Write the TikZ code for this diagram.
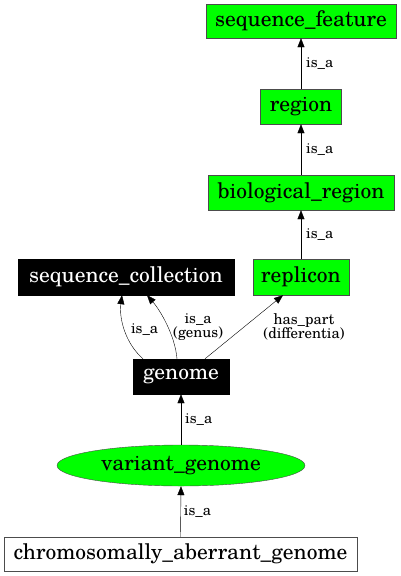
\documentclass[tikz,border=0pt]{standalone}
\usepackage{fontspec}
\setmainfont{TeX Gyre Schola}
\usetikzlibrary{arrows.meta,shapes.geometric}
\definecolor{termgreen}{HTML}{00FF00}

\begin{document}
\begin{tikzpicture}[x=1pt,y=-1pt,
  term/.style={draw=black!70, fill=termgreen, inner sep=0pt,
    font=\fontsize{21.5}{24}\selectfont},
  setterm/.style={draw=black, fill=black, text=white, inner sep=0pt,
    font=\fontsize{21.5}{24}\selectfont},
  plainterm/.style={draw=black!70, fill=white, inner sep=0pt,
    font=\fontsize{21.5}{24}\selectfont},
  rel/.style={draw=black, -{Triangle[length=9pt,width=7pt]}},
  rellabel/.style={font=\fontsize{14.8}{14}\selectfont, inner sep=0pt, align=center}]

\useasboundingbox (0,0) rectangle (401,576);

%% upper chain
\node[term, minimum width=190pt, minimum height=34pt] (seqfeat) at (301,21) {sequence\_feature};
\node[term, minimum width=81pt, minimum height=35pt] (region) at (301,106.5) {region};
\node[term, minimum width=186pt, minimum height=35pt] (bioreg) at (301,192.5) {biological\_region};
\node[term, minimum width=96pt, minimum height=36pt] (replicon) at (301,277) {replicon};

%% left part
\node[setterm, minimum width=216pt, minimum height=36pt] (seqcoll) at (126,277) {sequence\_collection};
\node[setterm, minimum width=96pt, minimum height=35pt] (genome) at (181,376.5) {genome};
\node[term, ellipse, minimum width=248pt, minimum height=41pt] (variant) at (181,465.5) {variant\_genome};
\node[plainterm, minimum width=353pt, minimum height=34pt] (chrom) at (180.5,554) {chromosomally\_aberrant\_genome};

%%
\draw[rel] (region.north) -- (seqfeat.south) node[rellabel, midway, right=5pt] {is\_a};
\draw[rel] (bioreg.north) -- (region.south) node[rellabel, midway, right=5pt] {is\_a};
\draw[rel] (replicon.north) -- (bioreg.south) node[rellabel, midway, right=5pt] {is\_a};

%% genome to its parents
\draw[rel] ([xshift=-38pt]genome.north) .. controls (125,343) and (119,318) .. ([xshift=-4pt]seqcoll.south)
  node[rellabel, midway, xshift=20pt] {is\_a};
\draw[rel] ([xshift=-4pt]genome.north) .. controls (175,335) and (160,310) .. ([xshift=21pt]seqcoll.south)
  node[rellabel, midway, xshift=32pt, yshift=-3pt] {is\_a\\(genus)};
\draw[rel] ([xshift=24pt]genome.north) -- ([xshift=-18pt]replicon.south)
  node[rellabel, midway, xshift=60pt] {has\_part\\(differentia)};

%%
\draw[rel] (variant.north) -- (genome.south) node[rellabel, midway, right=4pt] {is\_a};
\draw[rel] (chrom.north) -- (variant.south) node[rellabel, midway, right=3pt] {is\_a};

\end{tikzpicture}
\end{document}
